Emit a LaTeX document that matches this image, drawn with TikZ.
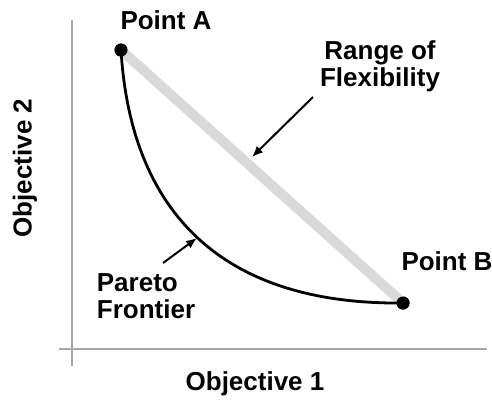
\documentclass[tikz,border=0pt]{standalone}
\usepackage{fontspec}
\setmainfont{Liberation Sans}
\usetikzlibrary{arrows.meta}

\tikzset{
    axisline/.style={draw=gray!70, line width=2.8pt},
    dotpt/.style={circle, fill=black, inner sep=0pt, minimum size=13pt},
    lbl/.style={font=\fontsize{26}{27}\selectfont\bfseries, inner sep=0pt},
    pointer/.style={-{Latex[length=11pt,width=9pt]}, line width=2pt},
}

\begin{document}
\begin{tikzpicture}[x=1pt,y=-1pt]
    \useasboundingbox (0,0) rectangle (492,400);
    % axes
    \coordinate (ytop) at (72,20);
    \coordinate (ybot) at (72,366);
    \coordinate (xleft) at (59,349);
    \coordinate (xright) at (487,349);
    \draw[axisline] (ytop) -- (ybot);
    \draw[axisline] (xleft) -- (xright);

    % the two end points
    \node[dotpt] (ptA) at (121,50) {};
    \node[dotpt] (ptB) at (403,303) {};

    % range band and frontier
    \draw[gray!30, line width=10pt] (ptA.center) -- (ptB.center);
    \draw[line width=2.8pt] (ptA.center) .. controls (130,200) and (210,305) .. (ptB.center);
    \node[dotpt] at (ptA) {};
    \node[dotpt] at (ptB) {};

    % labels
    \node[lbl] (lblA) at (166,20) {Point A};
    \node[lbl] (lblB) at (447,261) {Point B};
    \node[lbl, align=center] (lblrange) at (380,66) {Range of\\Flexibility};
    \node[lbl, align=left] (lblpareto) at (146,296) {Pareto\\Frontier};
    \node[lbl] (lblx) at (255,384) {Objective 1};
    \node[lbl, rotate=90] (lbly) at (25,168) {Objective 2};

    % pointers
    \coordinate (rangefrom) at (313,97);
    \coordinate (rangeto) at (252,157);
    \coordinate (paretofrom) at (163,263);
    \coordinate (paretoto) at (197,238);
    \draw[pointer] (rangefrom) -- (rangeto);
    \draw[pointer] (paretofrom) -- (paretoto);
\end{tikzpicture}
\end{document}
